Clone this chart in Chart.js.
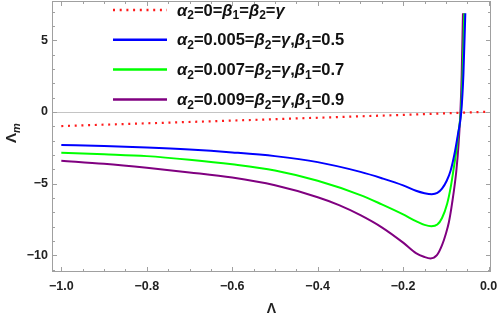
<!DOCTYPE html>
<html>
<head>
<meta charset="utf-8">
<script src="https://cdn.jsdelivr.net/npm/chart.js@4/dist/chart.umd.min.js"></script>
<style>
  html, body { margin: 0; padding: 0; background: #fff; }
  #wrap { width: 498px; height: 317px; }
</style>
</head>
<body>
<div id="wrap"><canvas id="chart" width="498" height="317"></canvas></div>
<script>
// values
const lambdaRed = [-1.0, -0.8, -0.6, -0.4, -0.2, 0.0];
const redValues = [-0.98, -0.79, -0.6, -0.4, -0.2, 0.02];

const lambdaBlue = [-1.0, -0.9, -0.8, -0.7, -0.6, -0.5, -0.4, -0.3, -0.25, -0.2, -0.17, -0.15, -0.133, -0.12, -0.109, -0.098, -0.089, -0.08, -0.072, -0.064, -0.059, -0.0545];
const blueValues = [-2.3, -2.38, -2.48, -2.62, -2.82, -3.08, -3.5, -4.18, -4.62, -5.12, -5.5, -5.67, -5.74, -5.65, -5.35, -4.8, -4.1, -2.95, -1.6, 0.0, 2.6, 6.9];

const lambdaGreen = [-1.0, -0.9, -0.8, -0.7, -0.6, -0.5, -0.4, -0.3, -0.25, -0.2, -0.17, -0.15, -0.134, -0.12, -0.109, -0.097, -0.089, -0.082, -0.076, -0.07, -0.065, -0.061, -0.057];
const greenValues = [-2.84, -2.95, -3.08, -3.33, -3.65, -4.08, -4.8, -5.8, -6.45, -7.15, -7.62, -7.88, -7.98, -7.86, -7.4, -6.4, -5.3, -4.0, -2.8, -1.3, 0.0, 2.5, 6.9];

const lambdaPurple = [-1.0, -0.9, -0.8, -0.7, -0.6, -0.5, -0.4, -0.35, -0.3, -0.25, -0.2, -0.17, -0.15, -0.136, -0.121, -0.109, -0.1, -0.093, -0.0856, -0.0755, -0.07, -0.066, -0.063, -0.06];
const purpleValues = [-3.4, -3.62, -3.9, -4.22, -4.58, -5.12, -5.95, -6.5, -7.2, -8.05, -9.12, -9.85, -10.12, -10.22, -10.0, -9.3, -8.5, -7.7, -6.4, -4.1, -2.1, 0.0, 2.6, 6.9];

const legendRows = [
  [['α', 'i'], ['2', 's'], ['=0=', 'n'], ['β', 'i'], ['1', 's'], ['=', 'n'], ['β', 'i'], ['2', 's'], ['=', 'n'], ['γ', 'i']],
  [['α', 'i'], ['2', 's'], ['=0.005=', 'n'], ['β', 'i'], ['2', 's'], ['=', 'n'], ['γ', 'i'], [',', 'n'], ['β', 'i'], ['1', 's'], ['=0.5', 'n']],
  [['α', 'i'], ['2', 's'], ['=0.007=', 'n'], ['β', 'i'], ['2', 's'], ['=', 'n'], ['γ', 'i'], [',', 'n'], ['β', 'i'], ['1', 's'], ['=0.7', 'n']],
  [['α', 'i'], ['2', 's'], ['=0.009=', 'n'], ['β', 'i'], ['2', 's'], ['=', 'n'], ['γ', 'i'], [',', 'n'], ['β', 'i'], ['1', 's'], ['=0.9', 'n']],
];

const FONT = "'Liberation Sans', Arial, sans-serif";

function pts(xs, ys) {
  return xs.map((x, i) => ({x: x, y: ys[i]}));
}

function minus(s) {
  return s.replace('-', '\u2212');
}

// n = normal, i = italic, s = subscript, si = italic subscript
function drawRich(ctx, parts, x, y, size) {
  for (const [t, k] of parts) {
    if (k === 's' || k === 'si') {
      ctx.font = (k === 'si' ? 'italic bold ' : 'bold ') + Math.round(size * 0.7) + 'px ' + FONT;
      ctx.fillText(t, x, y + size * 0.3);
    } else {
      ctx.font = (k === 'i' ? 'italic bold ' : 'bold ') + size + 'px ' + FONT;
      ctx.fillText(t, x, y);
    }
    x += ctx.measureText(t).width;
  }
}

const framePlugin = {
  id: 'frame',
  beforeDatasetsDraw(chart) {
    const {ctx, chartArea: a, scales: {x, y}} = chart;
    ctx.save();
    // zero line
    const y0 = Math.round(y.getPixelForValue(0)) + 0.5;
    ctx.strokeStyle = '#c4c4c4';
    ctx.lineWidth = 1;
    ctx.beginPath();
    ctx.moveTo(a.left, y0);
    ctx.lineTo(a.right, y0);
    ctx.stroke();
    // frame
    ctx.strokeStyle = '#a0a0a0';
    ctx.strokeRect(Math.round(a.left) + 0.5, Math.round(a.top) + 0.5,
      Math.round(a.width) - 1, Math.round(a.height) - 1);
    // inward ticks
    ctx.beginPath();
    for (let i = 0; i <= 20; i++) {
      const px = Math.round(x.getPixelForValue(-1 + i * 0.05)) + 0.5;
      const len = i % 4 === 0 ? 5 : 3;
      ctx.moveTo(px, a.bottom); ctx.lineTo(px, a.bottom - len);
      ctx.moveTo(px, a.top); ctx.lineTo(px, a.top + len);
    }
    for (let v = -11; v <= 7; v++) {
      const py = Math.round(y.getPixelForValue(v)) + 0.5;
      const len = v % 5 === 0 ? 5 : 3;
      ctx.moveTo(a.left, py); ctx.lineTo(a.left + len, py);
      ctx.moveTo(a.right, py); ctx.lineTo(a.right - len, py);
    }
    ctx.stroke();
    ctx.restore();
  },
  afterDraw(chart) {
    const {ctx, chartArea: a} = chart;
    ctx.save();
    ctx.fillStyle = '#222';
    ctx.textBaseline = 'middle';
    // x title
    ctx.textAlign = 'center';
    ctx.font = 'bold 14px ' + FONT;
    ctx.fillText('\u039B', (a.left + a.right) / 2, 309);
    // y title
    ctx.translate(14, 134);
    ctx.rotate(-Math.PI / 2);
    ctx.textAlign = 'left';
    drawRich(ctx, [['\u039B', 'n'], ['m', 'si']], -9, -2, 15);
    ctx.restore();

    // legend
    ctx.save();
    ctx.textBaseline = 'middle';
    ctx.textAlign = 'left';
    chart.data.datasets.forEach((ds, i) => {
      const ly = 10 + i * 29.8;
      ctx.strokeStyle = ds.borderColor;
      ctx.lineWidth = 2.5;
      ctx.setLineDash(ds.borderDash || []);
      ctx.beginPath();
      ctx.moveTo(113, ly);
      ctx.lineTo(167, ly);
      ctx.stroke();
      ctx.setLineDash([]);
      ctx.fillStyle = '#111';
      drawRich(ctx, legendRows[i], 177, ly + 1, 16.5);
    });
    ctx.restore();
  }
};

new Chart(document.getElementById('chart'), {
  type: 'line',
  data: {
    datasets: [
      {label: 'red', data: pts(lambdaRed, redValues), borderColor: '#ff1a1a', borderWidth: 2.2, borderDash: [2, 4.7], pointRadius: 0, tension: 0},
      {label: 'blue', data: pts(lambdaBlue, blueValues), borderColor: '#0000ff', borderWidth: 2, pointRadius: 0, cubicInterpolationMode: 'monotone'},
      {label: 'green', data: pts(lambdaGreen, greenValues), borderColor: '#00ff00', borderWidth: 2, pointRadius: 0, cubicInterpolationMode: 'monotone'},
      {label: 'purple', data: pts(lambdaPurple, purpleValues), borderColor: '#800080', borderWidth: 2, pointRadius: 0, cubicInterpolationMode: 'monotone'},
    ]
  },
  options: {
    responsive: false,
    animation: false,
    layout: {padding: {left: 0, right: 7, top: 1, bottom: 0}},
    plugins: {legend: {display: false}, tooltip: {enabled: false}},
    scales: {
      x: {
        type: 'linear',
        min: -1.0218,
        max: 0.0056,
        grid: {display: false, drawTicks: false},
        border: {display: false},
        afterFit: s => { s.height = 45; s.paddingLeft = 0; s.paddingRight = 0; },
        ticks: {
          stepSize: 0.2,
          includeBounds: false,
          padding: 7,
          color: '#222',
          font: {family: FONT, size: 12.5, weight: 'bold'},
          callback: v => Math.abs(v) < 1e-9 ? '0.0' : minus(v.toFixed(1)),
        }
      },
      y: {
        min: -11.17,
        max: 7.75,
        grid: {display: false, drawTicks: false},
        border: {display: false},
        afterFit: s => { s.width = 52; s.paddingTop = 0; s.paddingBottom = 0; },
        ticks: {
          stepSize: 5,
          includeBounds: false,
          padding: 4,
          color: '#222',
          font: {family: FONT, size: 12.5, weight: 'bold'},
          callback: v => minus(String(Math.round(v))),
        }
      }
    }
  },
  plugins: [framePlugin]
});
</script>
</body>
</html>
